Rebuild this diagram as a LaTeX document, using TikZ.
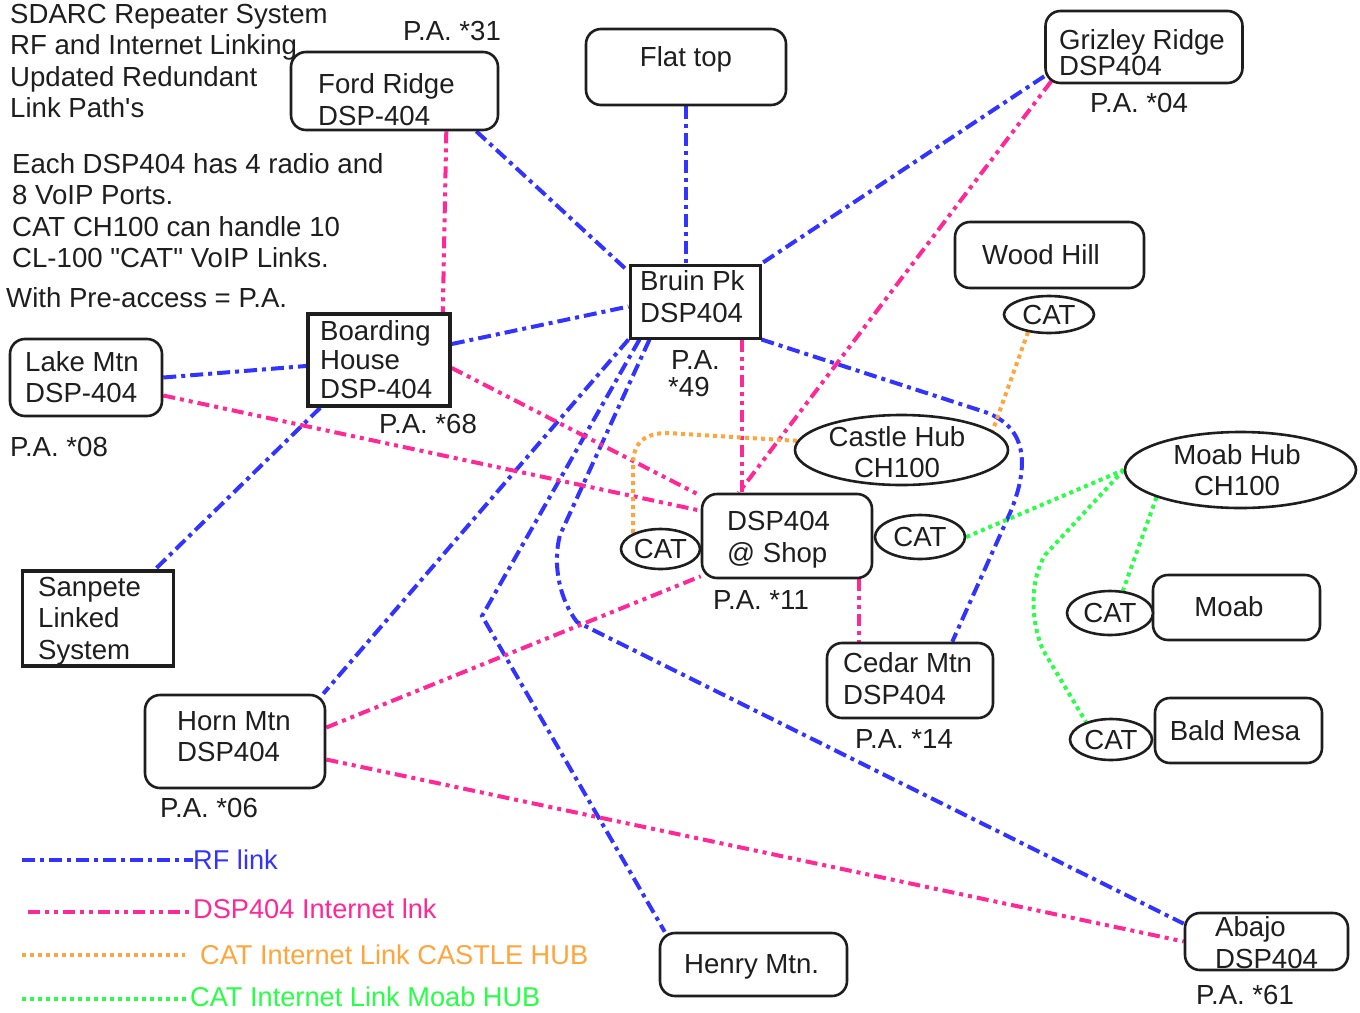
\documentclass[tikz,border=0pt]{standalone}
\usepackage{fontspec}
\setmainfont{Liberation Sans}[Ligatures=TeXOff]
\usetikzlibrary{shapes.geometric,calc}
\pgfdeclarelayer{bg}
\pgfsetlayers{bg,main}
\definecolor{rfblue}{RGB}{51,51,255}
\definecolor{inetpink}{RGB}{255,40,150}
\definecolor{castleorange}{RGB}{255,165,60}
\definecolor{moabgreen}{RGB}{40,255,70}
\definecolor{ink}{RGB}{30,30,30}
\begin{document}
\begin{tikzpicture}[x=1pt,y=-1pt,
  every node/.style={font=\fontsize{27.6}{31.5}\selectfont, text=ink},
  rbox/.style={draw=ink, line width=2.6pt, rounded corners=15pt, fill=white, inner sep=0pt},
  sbox/.style={draw=ink, line width=3.2pt, fill=white, inner sep=0pt},
  catnode/.style={draw=ink, line width=2.6pt, ellipse, fill=white, inner sep=0pt, text depth=0pt},
  hub/.style={draw=ink, line width=2.6pt, ellipse, fill=white, inner sep=0pt},
  txt/.style={anchor=west, align=left, inner sep=0pt, text depth=0pt},
  ctxt/.style={align=center, inner sep=0pt, text depth=0pt},
  legtxt/.style={anchor=west, align=left, inner sep=0pt, text depth=0pt, font=\fontsize{27.2}{31.5}\selectfont},
  rf/.style={draw=rfblue, line width=4pt, dash pattern=on 13pt off 5pt on 4pt off 5pt},
  inet/.style={draw=inetpink, line width=4pt, dash pattern=on 12pt off 5pt on 4pt off 5pt on 4pt off 5pt},
  chub/.style={draw=castleorange, line width=4pt, dash pattern=on 4pt off 4pt},
  mhub/.style={draw=moabgreen, line width=4pt, dash pattern=on 4pt off 4pt},
]
\useasboundingbox (0,0) rectangle (1360,1012);

% ---- boxes ----
\node[rbox, minimum width=207pt, minimum height=78pt] (ford) at (394.5,91) {};
\node[rbox, minimum width=200pt, minimum height=76pt] (flat) at (686,67) {};
\node[rbox, minimum width=197pt, minimum height=72pt] (grizley) at (1144,47) {};
\node[rbox, minimum width=189pt, minimum height=66pt] (wood) at (1049.5,255) {};
\node[catnode, minimum width=90pt, minimum height=37pt] (catW) at (1049,314.5) {CAT};
\node[sbox, line width=3pt, minimum width=130pt, minimum height=73pt] (bruin) at (695,301.5) {};
\node[sbox, line width=3.6pt, minimum width=142pt, minimum height=92pt] (boarding) at (379,360) {};
\node[rbox, minimum width=152pt, minimum height=77pt] (lake) at (86,377.5) {};
\node[sbox, line width=3.6pt, minimum width=151pt, minimum height=95pt] (sanpete) at (98,618.5) {};
\node[hub, minimum width=213pt, minimum height=70pt] (castle) at (901.5,450) {};
\node[hub, minimum width=231pt, minimum height=76pt] (moabhub) at (1240.5,470) {};
\node[rbox, minimum width=170pt, minimum height=84pt] (shop) at (787,536) {};
\node[catnode, minimum width=79pt, minimum height=40pt] (catL) at (660.5,549) {CAT};
\node[catnode, minimum width=90pt, minimum height=44pt] (catR) at (920,537) {CAT};
\node[rbox, minimum width=166pt, minimum height=75pt] (cedar) at (910,680.5) {};
\node[rbox, minimum width=167pt, minimum height=65pt] (moab) at (1236.5,607.5) {};
\node[catnode, minimum width=86pt, minimum height=44pt] (catM) at (1110,613) {CAT};
\node[rbox, minimum width=167pt, minimum height=65pt] (bald) at (1238.5,730.5) {};
\node[catnode, minimum width=82pt, minimum height=41pt] (catB) at (1111,739.5) {CAT};
\node[rbox, minimum width=180pt, minimum height=93pt] (horn) at (235,741.5) {};
\node[rbox, minimum width=187pt, minimum height=63pt] (henry) at (753.5,964.5) {};
\node[rbox, minimum width=163pt, minimum height=57pt] (abajo) at (1266.5,941.5) {};

% ---- texts ----
\node[txt] (titleT) at (10,61) {SDARC Repeater System\\RF and Internet Linking\\Updated Redundant\\Link Path's};
\node[txt] (infoT) at (12,210.5) {Each DSP404 has 4 radio and\\8 VoIP Ports.\\CAT CH100 can handle 10\\CL-100 "CAT" VoIP Links.};
\node[txt] (paT) at (6,297) {With Pre-access = P.A.};
\node[txt] (fordT) at (318,99.5) {Ford Ridge\\DSP-404};
\node[txt] (pa31) at (403,31) {P.A. *31};
\node[ctxt] (flatT) at (686,56) {Flat top};
\node[txt, font=\fontsize{27.6}{26}\selectfont] (grizT) at (1059,52) {Grizley Ridge\\DSP404};
\node[txt] (pa04) at (1090,103) {P.A. *04};
\node[txt] (woodT) at (982,254) {Wood Hill};
\node[txt] (bruinT) at (640,296.5) {Bruin Pk\\DSP404};
\node[txt, font=\fontsize{27.6}{27}\selectfont] (pa49) at (668,373.5) {\hspace{3pt}P.A.\\*49};
\node[txt, font=\fontsize{27.6}{29}\selectfont] (boardT) at (320,359) {Boarding\\House\\DSP-404};
\node[txt] (pa68) at (379,424) {P.A. *68};
\node[txt] (lakeT) at (25,377) {Lake Mtn\\DSP-404};
\node[txt] (pa08) at (10,447) {P.A. *08};
\node[txt] (sanT) at (38,618) {Sanpete\\Linked\\System};
\node[ctxt] (castleT) at (897,452) {Castle Hub\\CH100};
\node[ctxt] (moabhubT) at (1237,470) {Moab Hub\\CH100};
\node[txt] (shopT) at (727,537) {DSP404\\@ Shop};
\node[txt] (pa11) at (713,600) {P.A. *11};
\node[txt] (cedarT) at (843,678.5) {Cedar Mtn\\DSP404};
\node[txt] (pa14) at (855,739) {P.A. *14};
\node[ctxt] (moabT) at (1229,606) {Moab};
\node[ctxt] (baldT) at (1235,730) {Bald Mesa};
\node[txt] (hornT) at (177,736.5) {Horn Mtn\\DSP404};
\node[txt] (pa06) at (160,808) {P.A. *06};
\node[txt] (henryT) at (684,964) {Henry Mtn.};
\node[txt] (abajoT) at (1215,942.5) {Abajo\\DSP404};
\node[txt] (pa61) at (1196,995) {P.A. *61};

% ---- legend ----
\node[legtxt, text=rfblue] (rfT) at (193,860) {RF link};
\node[legtxt, text=inetpink] (inetT) at (193,909) {DSP404 Internet lnk};
\node[legtxt, text=castleorange] (castleLT) at (200,955) {CAT Internet Link CASTLE HUB};
\node[legtxt, text=moabgreen] (moabLT) at (190,997) {CAT Internet Link Moab HUB};

\begin{pgfonlayer}{bg}
\fill[white] (0,0) rectangle (1360,1012);
% legend lines
\draw[rf] (22,860) -- (rfT.west);
\draw[inet] (28,912) -- ([yshift=-3pt]inetT.west);
\draw[chub] (22,955) -- ([xshift=-15pt]castleLT.west);
\draw[mhub] (22,999) -- ([yshift=-2pt]moabLT.west);

% RF links
\draw[rf] ([xshift=-23pt]ford.south east) -- ([yshift=-8pt]bruin.north west);
\draw[rf] (flat.south) -- (flat.south |- bruin.north);
\draw[rf] ([yshift=8pt]grizley.south west) -- (bruin.north east);
\draw[rf] ([yshift=16pt]boarding.east) -- ([yshift=-5pt]bruin.west);
\draw[rf] (lake.east) -- ([yshift=-6pt]boarding.west);
\draw[rf] ([xshift=14pt]boarding.south west) -- ([xshift=-20pt]sanpete.north east);
\draw[rf] (bruin.south west) -- ([xshift=-3pt]horn.north east);
\draw[rf] ([xshift=11pt]bruin.south west) -- (482,616) -- ([xshift=6pt]henry.north west);
\draw[rf] ([xshift=21pt]bruin.south west) -- (560,535) .. controls (552,565) and (560,600) .. (577,622) -- ([yshift=-12pt]abajo.north west);
\draw[rf] (bruin.south east) -- (985,412) .. controls (1030,428) and (1028,470) .. (1010,513) -- ([xshift=-42pt]cedar.north east);

% Internet links
\draw[inet] ([xshift=-53pt]ford.south east) -- ([xshift=-9pt]boarding.north east);
\draw[inet] ([xshift=7pt,yshift=3pt]grizley.south west) -- ([xshift=38pt]shop.north west);
\draw[inet] ([xshift=-20pt]bruin.south east) -- ([xshift=-20pt]bruin.south east |- shop.north);
\draw[inet] ([yshift=-8pt]boarding.east) -- ([yshift=-3pt]shop.north west);
\draw[inet] ([yshift=-18pt]lake.east) -- ([yshift=-18pt]shop.north west);
\draw[inet] ([yshift=14pt]horn.east) -- ([yshift=3pt]shop.south west);
\draw[inet] ([yshift=-18pt]horn.east) -- (abajo.west);
\draw[inet] ([xshift=-14pt]shop.south east) -- ([xshift=-14pt]shop.south east |- cedar.north);

% CAT links, Castle hub
\draw[chub] (catL.150) -- (633,465) .. controls (633,442) and (645,433) .. (668,433) -- (castle.175);
\draw[chub] (catW.220) -- (castle.12);

% CAT links, Moab hub
\draw[mhub] (catR.east) -- (moabhub.west);
\draw[mhub] (moabhub.198) -- (catM.60);
\draw[mhub] (moabhub.west) -- (1045,555) .. controls (1030,580) and (1030,620) .. (1043,650) -- (catB.145);
\end{pgfonlayer}
\end{tikzpicture}
\end{document}
